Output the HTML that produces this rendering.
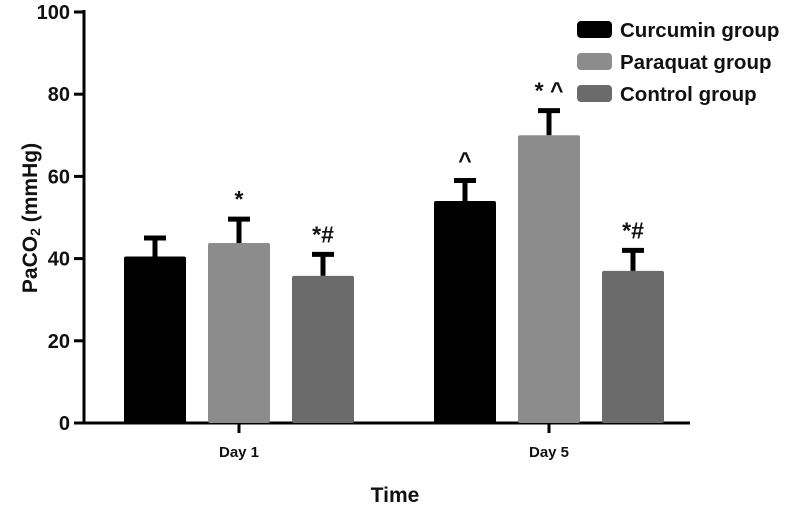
<!DOCTYPE html>
<html><head><meta charset="utf-8"><style>
body{margin:0;background:#fff}
svg text{font-family:"Liberation Sans",Arial,sans-serif;font-weight:bold;fill:#111}
</style></head><body>
<svg id="c" width="787" height="510"></svg>
<script>
const categories=["Day 1","Day 5"];
const groups=["Curcumin group","Paraquat group","Control group"];
const curcumin=[40.5,54];
const paraquat=[43.8,70];
const control=[35.8,37];
const curcuminErr=[5,5.5];
const paraquatErr=[6.3,6.5];
const controlErr=[5.7,5.5];
const annotations=[["","*","*#"],["^","* ^","*#"]];
const yTicks=[0,20,40,60,80,100];
const colors=["#000","#8c8c8c","#6b6b6b"];
const NS="http://www.w3.org/2000/svg";
const svg=document.getElementById('c');
function el(t,a,txt){const e=document.createElementNS(NS,t);for(const k in a)e.setAttribute(k,a[k]);if(txt!==undefined)e.textContent=txt;svg.appendChild(e);return e;}
const y0=423,y1=12;
function y(v){return y0-(v/100)*(y0-y1);}
const groupCenters=[239,549];
const barW=62,step=84;
function xBar(ci,gi){return groupCenters[ci]+(gi-1)*step-barW/2;}
const series=[curcumin,paraquat,control];
const errs=[curcuminErr,paraquatErr,controlErr];
let a=el('line',{x1:84,y1:10,x2:84,y2:y0+1,stroke:'#000','stroke-width':3});


a=el('line',{x1:74,y1:y0,x2:690,y2:y0,stroke:'#000','stroke-width':3});


yTicks.forEach(t=>{
 const l=el('line',{x1:74,y1:y(t),x2:84,y2:y(t),stroke:'#000','stroke-width':3});
 
 
 const tx=el('text',{x:70,y:y(t)+7,'text-anchor':'end','font-size':20},t);
 
 
});
categories.forEach((c,ci)=>{
 const l=el('line',{x1:groupCenters[ci],y1:y0,x2:groupCenters[ci],y2:y0+10,stroke:'#000','stroke-width':3});
 
 
 const tx=el('text',{x:groupCenters[ci],y:457,'text-anchor':'middle','font-size':15},c);
 
 
 series.forEach((s,gi)=>{
  const x=xBar(ci,gi),cx=x+barW/2;
  const et=y(s[ci]+errs[gi][ci]);
  const e1=el('line',{x1:cx,y1:y(s[ci]),x2:cx,y2:et,stroke:'#000','stroke-width':5});
  
  
  const e2=el('line',{x1:cx-11,y1:et+2,x2:cx+11,y2:et+2,stroke:'#000','stroke-width':5});
  
  
  const r=el('rect',{x:x,y:y(s[ci]),width:barW,height:y0-y(s[ci]),fill:colors[gi],rx:2});
  
  
  const an=annotations[ci][gi];
  if(an){const t=el('text',{x:cx,y:et-10,'text-anchor':'middle','font-size':23},an);
   
   }
 });
});
let t=el('text',{x:395,y:502,'text-anchor':'middle','font-size':21},'Time');


t=el('text',{x:0,y:0,'text-anchor':'middle','font-size':21,transform:'translate(37,218) rotate(-90)'});
t.innerHTML='PaCO<tspan font-size="14" dy="3">2</tspan><tspan dy="-3"> (mmHg)</tspan>';


groups.forEach((g,gi)=>{
 const yy=21+gi*32;
 const r=el('rect',{x:577,y:yy,width:35,height:17,fill:colors[gi],rx:4});
 
 
 const tx=el('text',{x:620,y:yy+16,'font-size':20.5},g);
 
 
});
</script>
</body></html>
